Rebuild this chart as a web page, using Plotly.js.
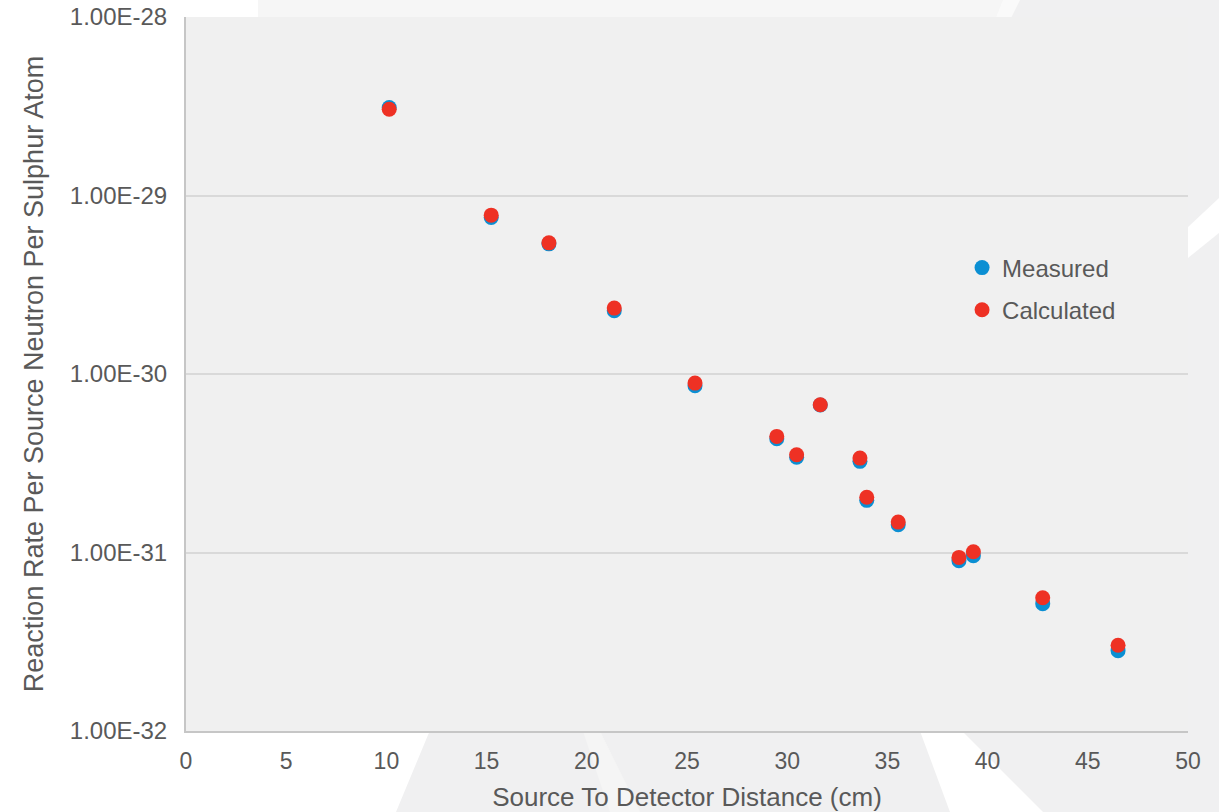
<!DOCTYPE html>
<html>
<head>
<meta charset="utf-8">
<script src="https://cdn.plot.ly/plotly-3.0.1.min.js"></script>
<style>
  html, body { margin: 0; padding: 0; width: 1219px; height: 812px; overflow: hidden; background: #f0f0f1; }
  #bg { position: absolute; left: 0; top: 0; width: 1219px; height: 812px; z-index: 0; }
  #chart { position: absolute; left: 0; top: 0; width: 1219px; height: 812px; z-index: 1; }
</style>
</head>
<body>
<svg id="bg" width="1219" height="812" xmlns="http://www.w3.org/2000/svg">
  <rect x="0" y="0" width="1219" height="812" fill="#f0f0f1"/>
  <polygon points="258,0 1003,0 1003,20 258,20" fill="#f6f6f6"/>
  <polygon points="1003,0 1020,0 1010,20 995,20" fill="#fafafa"/>
  <polygon points="0,0 258,0 258,20 445,700 428,735 396,812 0,812" fill="#ffffff"/>
  <polygon points="583,731 600,731 640,812 610,812" fill="#f5f5f5"/>
  <polygon points="920,731 962,731 1043,812 950,812" fill="#ffffff"/>
  <polygon points="1188,227 1219,198 1219,233 1188,258" fill="#ffffff"/>
</svg>
<div id="chart"></div>
<script>
// Source-to-detector distance (cm)
const distance = [10.14, 15.23, 18.11, 21.37, 25.40, 29.48, 30.47, 31.65, 33.63, 33.97, 35.54, 38.57, 39.29, 42.75, 46.51];
// Reaction rate per source neutron per sulphur atom
const measured = [3.11e-29, 7.54e-30, 5.36e-30, 2.26e-30, 8.59e-31, 4.34e-31, 3.42e-31, 6.70e-31, 3.24e-31, 1.96e-31, 1.43e-31, 9.0e-32, 9.6e-32, 5.17e-32, 2.82e-32];
const calculated = [3.04e-29, 7.76e-30, 5.43e-30, 2.34e-30, 8.89e-31, 4.47e-31, 3.53e-31, 6.73e-31, 3.38e-31, 2.04e-31, 1.48e-31, 9.39e-32, 1.01e-31, 5.58e-32, 3.02e-32];
const seriesNames = ["Measured", "Calculated"];
const yTickVals = [1e-32, 1e-31, 1e-30, 1e-29, 1e-28];
const yTickText = ["1.00E-32", "1.00E-31", "1.00E-30", "1.00E-29", "1.00E-28"];
const xTickVals = [0, 5, 10, 15, 20, 25, 30, 35, 40, 45, 50];

const txt = '#595959';
const fontFam = 'Liberation Sans, Arial, sans-serif';

const traces = [
  {
    x: distance, y: measured, name: seriesNames[0], type: 'scatter', mode: 'markers',
    marker: { color: '#0b8fd3', size: 15 }, legendgroup: 'a'
  },
  {
    x: distance, y: calculated, name: seriesNames[1], type: 'scatter', mode: 'markers',
    marker: { color: '#ee3124', size: 15 }, legendgroup: 'b'
  }
];

const layout = {
  width: 1219, height: 812,
  margin: { l: 186, r: 31, t: 17, b: 81, pad: 0 },
  paper_bgcolor: 'rgba(0,0,0,0)',
  plot_bgcolor: '#f0f0f0',
  font: { family: fontFam, color: txt, size: 23 },
  showlegend: true,
  legend: {
    x: 0.7745, xanchor: 'left', y: 0.68, yanchor: 'top',
    bgcolor: 'rgba(0,0,0,0)', font: { size: 24, color: txt, family: fontFam },
    traceorder: 'grouped', tracegroupgap: 8, itemwidth: 30
  },
  xaxis: {
    range: [0, 50], tickvals: xTickVals, ticks: '', showgrid: false, zeroline: false,
    showline: true, linecolor: '#c6c6c6', linewidth: 2,
    tickfont: { size: 23, color: txt, family: fontFam }, ticklabelstandoff: 8,
    title: { text: 'Source To Detector Distance (cm)', font: { size: 26, color: txt, family: fontFam }, standoff: 16 }
  },
  yaxis: {
    type: 'log', range: [-32, -28], tickvals: yTickVals, ticktext: yTickText, ticks: '',
    showgrid: true, gridcolor: '#d9d9d9', gridwidth: 2, zeroline: false,
    showline: true, linecolor: '#c6c6c6', linewidth: 2,
    tickfont: { size: 24, color: txt, family: fontFam }, ticklabelstandoff: 12,
    title: { text: 'Reaction Rate Per Source Neutron Per Sulphur Atom', font: { size: 27, color: txt, family: fontFam }, standoff: 18 }
  }
};

Plotly.newPlot('chart', traces, layout, { displayModeBar: false, staticPlot: true });
</script>
</body>
</html>
